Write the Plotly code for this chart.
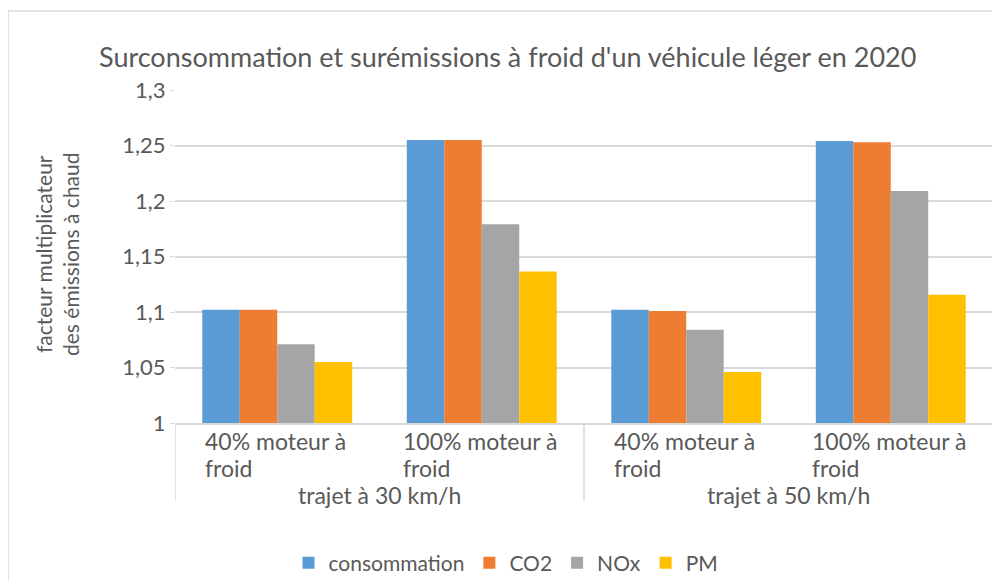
import plotly.graph_objects as go

# ---- data ----
groups = ["trajet à 30 km/h", "trajet à 50 km/h"]
conditions = ["40% moteur à<br>froid", "100% moteur à<br>froid"]
series_names = ["consommation", "CO2", "NOx", "PM"]
consommation = [1.102, 1.255, 1.102, 1.254]
co2 = [1.102, 1.255, 1.101, 1.253]
nox = [1.071, 1.179, 1.084, 1.209]
pm = [1.055, 1.1365, 1.046, 1.1155]
y_tickvals = [1, 1.05, 1.1, 1.15, 1.2, 1.25, 1.3]
y_ticktext = ["1", "1,05", "1,1", "1,15", "1,2", "1,25", "1,3"]
title_text = "Surconsommation et surémissions à froid d'un véhicule léger en 2020"
ytitle_text = "facteur multiplicateur<br>des émissions à chaud"

colors = ["#5B9BD5", "#ED7D31", "#A5A5A5", "#FFC000"]
values = [consommation, co2, nox, pm]
FONT = "Lato"
TXT = "#595959"

cats = []
for g in groups:
    for c in conditions:
        cats.append((g, c))
xs = list(range(len(cats)))

fig = go.Figure()
for name, vals, col in zip(series_names, values, colors):
    fig.add_trace(go.Bar(x=xs, y=vals, name=name, marker=dict(color=col, line=dict(width=0))))

W, H = 1000, 580
OFF = 8  # page offset of the figure in the screenshot
ml = 175 - OFF
mr = W - (993 - OFF)
mt = 90 - OFF
mb = H - (423 - OFF)
pw = W - ml - mr
ph = H - mt - mb

def px_x(p):
    return (p - OFF - ml) / pw

def px_y(p):
    return (H - mb - (p - OFF)) / ph

CAT_SIZE = 23
CHAR_W = 6.2  # half of approx. char width in px, used to left-align wrapped lines as a centred block
annotations = []
for i, (g, c) in enumerate(cats):
    lines = c.split("<br>")
    half = max(len(l) for l in lines) * CHAR_W
    for k, l in enumerate(lines):
        annotations.append(dict(x=i, xref="x", xshift=-half, y=px_y(441 + 27 * k), yref="paper",
                                text=l, showarrow=False, xanchor="left", yanchor="middle",
                                font=dict(family=FONT, size=CAT_SIZE, color=TXT)))
n_in = len(conditions)
for gi, g in enumerate(groups):
    center = gi * n_in + (n_in - 1) / 2
    annotations.append(dict(x=center, xref="x", y=px_y(495), yref="paper", text=g, showarrow=False,
                            xanchor="center", yanchor="middle",
                            font=dict(family=FONT, size=CAT_SIZE, color=TXT)))
annotations.append(dict(x=px_x(57), xref="paper", y=px_y(254), yref="paper", text=ytitle_text,
                        showarrow=False, textangle=-90, xanchor="center", yanchor="middle",
                        font=dict(family=FONT, size=21, color=TXT)))
annotations.append(dict(x=px_x(507), xref="paper", y=px_y(56), yref="paper", text=title_text,
                        showarrow=False, xanchor="center", yanchor="middle",
                        font=dict(family=FONT, size=27, color=TXT)))

shapes = []
for gi in range(len(groups) + 1):
    xb = gi * n_in - 0.5
    shapes.append(dict(type="line", xref="x", yref="paper", x0=xb, x1=xb, y0=0, y1=px_y(500),
                       line=dict(color="#D9D9D9", width=1.5)))
shapes.append(dict(type="rect", xref="paper", yref="paper", x0=px_x(8), x1=px_x(1010),
                   y0=px_y(600), y1=px_y(11), line=dict(color="#D9D9D9", width=1.5),
                   fillcolor="rgba(0,0,0,0)"))

fig.update_layout(
    width=W, height=H,
    margin=dict(l=ml, r=mr, t=mt, b=mb, autoexpand=False),
    paper_bgcolor="white", plot_bgcolor="white",
    barmode="group", bargap=0.267, bargroupgap=0,
    font=dict(family=FONT, color=TXT),
    xaxis=dict(range=[-0.5, len(cats) - 0.5], showticklabels=False, showgrid=False, zeroline=False,
               showline=True, linecolor="#D9D9D9", linewidth=1.5, ticks=""),
    yaxis=dict(range=[1, 1.3], tickvals=y_tickvals, ticktext=y_ticktext, showgrid=True,
               gridcolor="#D9D9D9", gridwidth=1.5, zeroline=False, showline=False,
               ticks="outside", ticklen=4, tickcolor="#D9D9D9",
               tickfont=dict(family=FONT, size=22, color=TXT)),
    legend=dict(orientation="h", x=px_x(506), xanchor="center",
                y=px_y(563), yanchor="middle", font=dict(family=FONT, size=21, color=TXT),
                traceorder="normal"),
    annotations=annotations,
    shapes=shapes,
    showlegend=True,
)

fig.write_html("out.html")
